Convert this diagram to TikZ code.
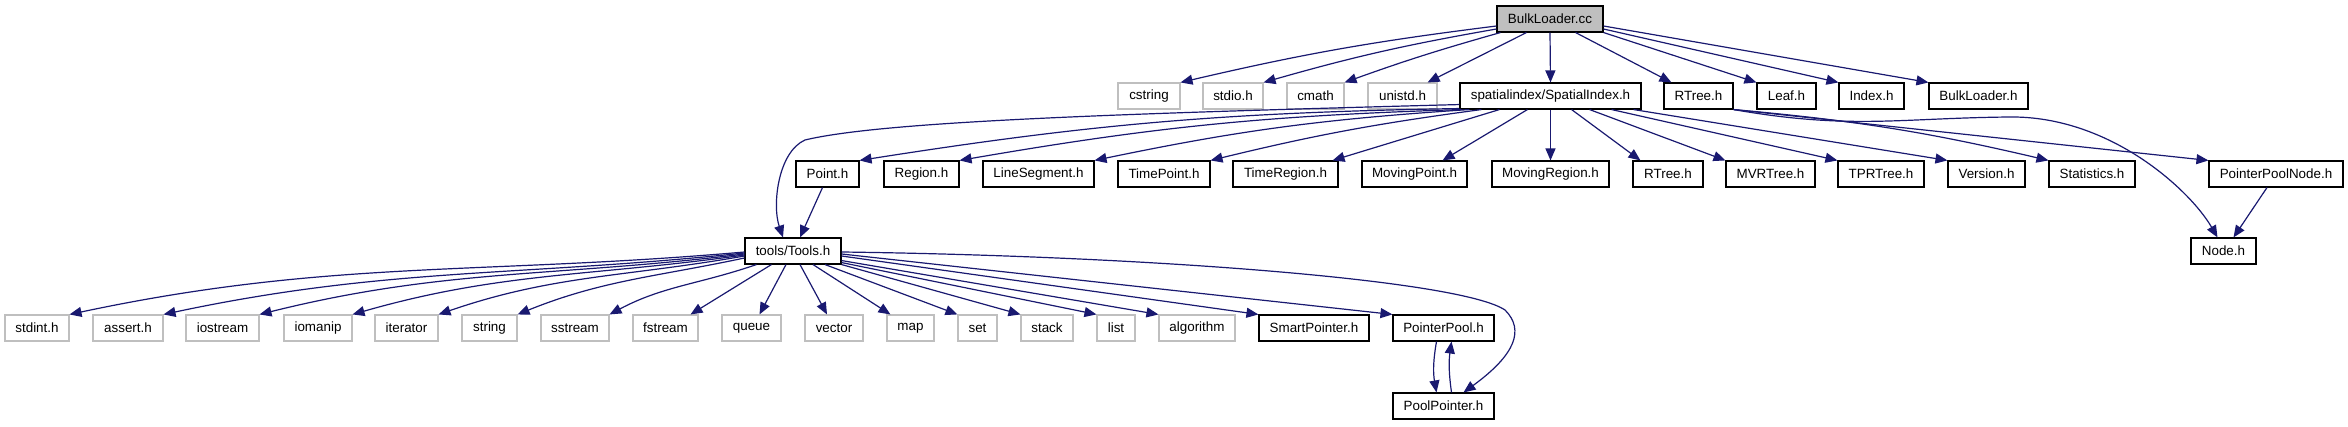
\documentclass[tikz,border=0pt]{standalone}
\usepackage{fontspec}
\setmainfont{Liberation Sans}
\usetikzlibrary{arrows.meta}
\definecolor{edgecol}{HTML}{191970}
\definecolor{sysgray}{HTML}{BFBFBF}
\tikzset{
  box/.style={draw=black, line width=1.1pt, rectangle, inner sep=0pt, minimum height=26pt,
    font=\fontsize{13.4}{15}\selectfont, text=black},
  sysbox/.style={box, draw=sysgray},
  mainbox/.style={box, fill=sysgray},
  edge/.style={draw=edgecol, line width=1.2pt, -{Triangle[length=12pt,width=10pt]}},
}
\begin{document}
\begin{tikzpicture}[x=1pt,y=-1pt]
\useasboundingbox (0,0) rectangle (2348,427);
% row 0
\node[mainbox, minimum width=106pt] (bl) at (1550,19) {BulkLoader.cc};
% row 1
\node[sysbox, minimum width=62pt] (cstring) at (1149,96) {cstring};
\node[sysbox, minimum width=60pt] (stdioh) at (1233,96) {stdio.h};
\node[sysbox, minimum width=57pt] (cmath) at (1315.5,96) {cmath};
\node[sysbox, minimum width=69pt] (unistd) at (1402.5,96) {unistd.h};
\node[box, minimum width=181pt] (si) at (1550.5,96) {spatialindex/SpatialIndex.h};
\node[box, minimum width=69pt] (rta) at (1698.5,96) {RTree.h};
\node[box, minimum width=59pt] (leaf) at (1786.5,96) {Leaf.h};
\node[box, minimum width=65pt] (index) at (1871.5,96) {Index.h};
\node[box, minimum width=99pt] (blh) at (1978.5,96) {BulkLoader.h};
% row 2
\node[box, minimum width=63pt] (pointh) at (827.5,174) {Point.h};
\node[box, minimum width=75pt] (region) at (921.5,174) {Region.h};
\node[box, minimum width=111pt] (lineseg) at (1038.5,174) {LineSegment.h};
\node[box, minimum width=92pt] (timepoint) at (1164,174) {TimePoint.h};
\node[box, minimum width=105pt] (timeregion) at (1285.5,174) {TimeRegion.h};
\node[box, minimum width=105pt] (movingpoint) at (1414.5,174) {MovingPoint.h};
\node[box, minimum width=117pt] (movingregion) at (1550.5,174) {MovingRegion.h};
\node[box, minimum width=70pt] (rtb) at (1668,174) {RTree.h};
\node[box, minimum width=89pt] (mvr) at (1770.5,174) {MVRTree.h};
\node[box, minimum width=86pt] (tpr) at (1881,174) {TPRTree.h};
\node[box, minimum width=77pt] (version) at (1986.5,174) {Version.h};
\node[box, minimum width=86pt] (stats) at (2092,174) {Statistics.h};
\node[box, minimum width=134pt] (ppn) at (2276,174) {PointerPoolNode.h};
% row 3
\node[box, minimum width=96pt] (tools) at (793,251) {tools/Tools.h};
\node[box, minimum width=65pt] (nodeh) at (2223.5,251) {Node.h};
% row 4
\node[sysbox, minimum width=64pt] (stdint) at (37,328) {stdint.h};
\node[sysbox, minimum width=70pt] (assert) at (128,328) {assert.h};
\node[sysbox, minimum width=73pt] (iostream) at (222.5,328) {iostream};
\node[sysbox, minimum width=68pt] (iomanip) at (318,328) {iomanip};
\node[sysbox, minimum width=63pt] (iterator) at (406.5,328) {iterator};
\node[sysbox, minimum width=55pt] (string) at (489.5,328) {string};
\node[sysbox, minimum width=68pt] (sstream) at (575,328) {sstream};
\node[sysbox, minimum width=65pt] (fstream) at (665.5,328) {fstream};
\node[sysbox, minimum width=59pt] (queue) at (751.5,328) {queue};
\node[sysbox, minimum width=58pt] (vector) at (834,328) {vector};
\node[sysbox, minimum width=47pt] (map) at (910.5,328) {map};
\node[sysbox, minimum width=39pt] (set) at (977.5,328) {set};
\node[sysbox, minimum width=52pt] (stack) at (1047,328) {stack};
\node[sysbox, minimum width=38pt] (list) at (1116,328) {list};
\node[sysbox, minimum width=76pt] (algorithm) at (1197,328) {algorithm};
\node[box, minimum width=110pt] (smart) at (1314,328) {SmartPointer.h};
\node[box, minimum width=101pt] (pp) at (1443.5,328) {PointerPool.h};
% row 5
\node[box, minimum width=101pt] (poolptr) at (1443.5,406) {PoolPointer.h};

% BulkLoader.cc edges
\draw[edge] ([yshift=-7pt]bl.west) to[bend right=3] (cstring.north east);
\draw[edge] ([yshift=-10pt]bl.west) to[bend right=3] (stdioh.north east);
\draw[edge] ([xshift=4pt]bl.south west) to[bend right=2] (cmath.north east);
\draw[edge] ([xshift=30pt]bl.south west) -- ([xshift=-10pt]unistd.north east);
\draw[edge] (bl.south) -- (si.north);
\draw[edge] ([xshift=-28pt]bl.south east) -- ([xshift=8pt]rta.north west);
\draw[edge] (bl.south east) -- (leaf.north west);
\draw[edge] ([yshift=-10pt]bl.east) -- (index.north west);
\draw[edge] ([yshift=-7pt]bl.east) -- (blh.north west);

% SpatialIndex edges
\draw[edge] ([yshift=5pt]si.south west) .. controls (1100,114) and (880,122) .. (805,140)
  .. controls (778,152) and (772,205) .. ([xshift=-10pt]tools.north);
\draw[edge] ([yshift=1pt]si.south west) to[bend right=4] (pointh.north east);
\draw[edge] ([xshift=2pt]si.south west) to[bend right=4] (region.north east);
\draw[edge] ([xshift=10pt]si.south west) to[bend right=4] (lineseg.north east);
\draw[edge] ([xshift=22pt]si.south west) to[bend right=3] (timepoint.north east);
\draw[edge] ([xshift=40pt]si.south west) -- ([xshift=-6pt]timeregion.north east);
\draw[edge] ([xshift=68pt]si.south west) -- ([xshift=-25pt]movingpoint.north east);
\draw[edge] (si.south) -- (movingregion.north);
\draw[edge] ([xshift=-70pt]si.south east) -- ([xshift=8pt]rtb.north west);
\draw[edge] ([xshift=-52pt]si.south east) -- (mvr.north west);
\draw[edge] ([xshift=-30pt]si.south east) -- (tpr.north west);
\draw[edge] ([xshift=-8pt]si.south east) -- (version.north west);

% RTree.h edges
\draw[edge] (rta.south east) to[bend left=4] (stats.north west);
\draw[edge] (rta.south east) -- (ppn.north west);
\draw[edge] (rta.south east) .. controls (1850,130) and (1900,118) .. (2010,117)
  .. controls (2110,116) and (2190,190) .. ([xshift=-6pt]nodeh.north);
\draw[edge] ([xshift=-9pt]ppn.south) -- ([xshift=10pt]nodeh.north);

% Point.h
\draw[edge] ([xshift=-5pt]pointh.south) -- ([xshift=7pt]tools.north);

% Tools.h edges, left fan
\draw[edge] ([yshift=-1pt]tools.west) to[out=185,in=12] (stdint.north east);
\draw[edge] ([yshift=-2pt]tools.west) to[out=186,in=12] (assert.north east);
\draw[edge] ([yshift=-3pt]tools.west) to[out=187,in=14] (iostream.north east);
\draw[edge] ([yshift=-4pt]tools.west) to[out=188,in=16] (iomanip.north east);
\draw[edge] ([yshift=-5pt]tools.west) to[out=190,in=19] (iterator.north east);
\draw[edge] ([yshift=-7pt]tools.west) to[out=192,in=22] (string.north east);
\draw[edge] ([xshift=12pt]tools.south west) to[out=199,in=28] (sstream.north east);
\draw[edge] ([xshift=27pt]tools.south west) -- ([xshift=-8pt]fstream.north east);
\draw[edge] ([xshift=-7pt]tools.south) -- ([xshift=8pt]queue.north);
\draw[edge] ([xshift=7pt]tools.south) -- ([xshift=-7pt]vector.north);
% right fan
\draw[edge] ([xshift=20pt]tools.south) -- ([xshift=4pt]map.north west);
\draw[edge] ([xshift=32pt]tools.south) -- (set.north west);
\draw[edge] (tools.south east) -- (stack.north west);
\draw[edge] ([yshift=2pt]tools.south east) -- (list.north west);
\draw[edge] ([yshift=4pt]tools.south east) -- (algorithm.north west);
\draw[edge] ([yshift=-5pt]tools.east) -- (smart.north west);
\draw[edge] ([yshift=-3pt]tools.east) -- (pp.north west);
\draw[edge] ([yshift=-1pt]tools.east) .. controls (1150,256) and (1460,280) .. (1505,310)
  .. controls (1525,330) and (1515,355) .. ([xshift=20pt]poolptr.north);

% PointerPool <-> PoolPointer
\draw[edge] ([xshift=-7pt]pp.south) to[bend right=10] ([xshift=-7pt]poolptr.north);
\draw[edge] ([xshift=8pt]poolptr.north) to[bend left=8] ([xshift=8pt]pp.south);
\end{tikzpicture}
\end{document}
